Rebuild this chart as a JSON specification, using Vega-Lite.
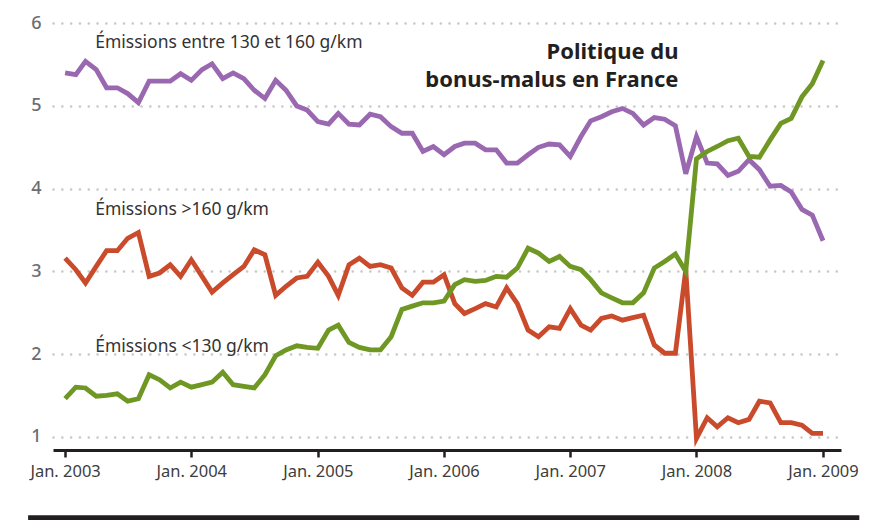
{
  "$schema": "https://vega.github.io/schema/vega-lite/v6.json",
  "width": 788,
  "height": 435,
  "autosize": {"type": "none"},
  "padding": {"left": 53, "top": 15, "right": 52, "bottom": 70},
  "background": "white",
  "config": {
    "view": {"stroke": null},
    "font": "Noto Sans"
  },
  "datasets": {
    "series": [
      {"date": "2003-01-01", "entre": 5.40, "sup": 3.16, "inf": 1.46},
      {"date": "2003-02-01", "entre": 5.38, "sup": 3.02, "inf": 1.60},
      {"date": "2003-03-01", "entre": 5.54, "sup": 2.86, "inf": 1.59},
      {"date": "2003-04-01", "entre": 5.44, "sup": 3.06, "inf": 1.49},
      {"date": "2003-05-01", "entre": 5.22, "sup": 3.25, "inf": 1.50},
      {"date": "2003-06-01", "entre": 5.22, "sup": 3.25, "inf": 1.52},
      {"date": "2003-07-01", "entre": 5.15, "sup": 3.40, "inf": 1.43},
      {"date": "2003-08-01", "entre": 5.04, "sup": 3.47, "inf": 1.46},
      {"date": "2003-09-01", "entre": 5.30, "sup": 2.94, "inf": 1.75},
      {"date": "2003-10-01", "entre": 5.30, "sup": 2.98, "inf": 1.69},
      {"date": "2003-11-01", "entre": 5.30, "sup": 3.08, "inf": 1.59},
      {"date": "2003-12-01", "entre": 5.39, "sup": 2.94, "inf": 1.66},
      {"date": "2004-01-01", "entre": 5.31, "sup": 3.14, "inf": 1.60},
      {"date": "2004-02-01", "entre": 5.44, "sup": 2.94, "inf": 1.63},
      {"date": "2004-03-01", "entre": 5.51, "sup": 2.75, "inf": 1.66},
      {"date": "2004-04-01", "entre": 5.33, "sup": 2.86, "inf": 1.78},
      {"date": "2004-05-01", "entre": 5.40, "sup": 2.96, "inf": 1.63},
      {"date": "2004-06-01", "entre": 5.33, "sup": 3.06, "inf": 1.61},
      {"date": "2004-07-01", "entre": 5.19, "sup": 3.26, "inf": 1.59},
      {"date": "2004-08-01", "entre": 5.09, "sup": 3.20, "inf": 1.75},
      {"date": "2004-09-01", "entre": 5.31, "sup": 2.71, "inf": 1.98},
      {"date": "2004-10-01", "entre": 5.19, "sup": 2.82, "inf": 2.05},
      {"date": "2004-11-01", "entre": 5.00, "sup": 2.92, "inf": 2.10},
      {"date": "2004-12-01", "entre": 4.95, "sup": 2.94, "inf": 2.08},
      {"date": "2005-01-01", "entre": 4.81, "sup": 3.11, "inf": 2.07},
      {"date": "2005-02-01", "entre": 4.78, "sup": 2.94, "inf": 2.29},
      {"date": "2005-03-01", "entre": 4.91, "sup": 2.71, "inf": 2.35},
      {"date": "2005-04-01", "entre": 4.78, "sup": 3.08, "inf": 2.14},
      {"date": "2005-05-01", "entre": 4.77, "sup": 3.16, "inf": 2.08},
      {"date": "2005-06-01", "entre": 4.90, "sup": 3.06, "inf": 2.05},
      {"date": "2005-07-01", "entre": 4.87, "sup": 3.08, "inf": 2.05},
      {"date": "2005-08-01", "entre": 4.75, "sup": 3.04, "inf": 2.21},
      {"date": "2005-09-01", "entre": 4.67, "sup": 2.80, "inf": 2.54},
      {"date": "2005-10-01", "entre": 4.67, "sup": 2.71, "inf": 2.58},
      {"date": "2005-11-01", "entre": 4.45, "sup": 2.87, "inf": 2.62},
      {"date": "2005-12-01", "entre": 4.51, "sup": 2.87, "inf": 2.62},
      {"date": "2006-01-01", "entre": 4.41, "sup": 2.96, "inf": 2.64},
      {"date": "2006-02-01", "entre": 4.51, "sup": 2.61, "inf": 2.84},
      {"date": "2006-03-01", "entre": 4.55, "sup": 2.49, "inf": 2.90},
      {"date": "2006-04-01", "entre": 4.55, "sup": 2.55, "inf": 2.88},
      {"date": "2006-05-01", "entre": 4.47, "sup": 2.61, "inf": 2.89},
      {"date": "2006-06-01", "entre": 4.47, "sup": 2.57, "inf": 2.94},
      {"date": "2006-07-01", "entre": 4.31, "sup": 2.80, "inf": 2.93},
      {"date": "2006-08-01", "entre": 4.31, "sup": 2.61, "inf": 3.04},
      {"date": "2006-09-01", "entre": 4.41, "sup": 2.29, "inf": 3.28},
      {"date": "2006-10-01", "entre": 4.50, "sup": 2.21, "inf": 3.22},
      {"date": "2006-11-01", "entre": 4.54, "sup": 2.33, "inf": 3.12},
      {"date": "2006-12-01", "entre": 4.53, "sup": 2.31, "inf": 3.18},
      {"date": "2007-01-01", "entre": 4.39, "sup": 2.55, "inf": 3.06},
      {"date": "2007-02-01", "entre": 4.63, "sup": 2.35, "inf": 3.02},
      {"date": "2007-03-01", "entre": 4.82, "sup": 2.29, "inf": 2.90},
      {"date": "2007-04-01", "entre": 4.87, "sup": 2.43, "inf": 2.74},
      {"date": "2007-05-01", "entre": 4.93, "sup": 2.46, "inf": 2.68},
      {"date": "2007-06-01", "entre": 4.97, "sup": 2.41, "inf": 2.62},
      {"date": "2007-07-01", "entre": 4.91, "sup": 2.44, "inf": 2.62},
      {"date": "2007-08-01", "entre": 4.77, "sup": 2.47, "inf": 2.74},
      {"date": "2007-09-01", "entre": 4.86, "sup": 2.11, "inf": 3.04},
      {"date": "2007-10-01", "entre": 4.84, "sup": 2.01, "inf": 3.12},
      {"date": "2007-11-01", "entre": 4.76, "sup": 2.01, "inf": 3.21},
      {"date": "2007-12-01", "entre": 4.18, "sup": 3.02, "inf": 3.00},
      {"date": "2008-01-01", "entre": 4.63, "sup": 0.98, "inf": 4.36},
      {"date": "2008-02-01", "entre": 4.31, "sup": 1.23, "inf": 4.45},
      {"date": "2008-03-01", "entre": 4.30, "sup": 1.12, "inf": 4.51},
      {"date": "2008-04-01", "entre": 4.16, "sup": 1.23, "inf": 4.58},
      {"date": "2008-05-01", "entre": 4.21, "sup": 1.17, "inf": 4.61},
      {"date": "2008-06-01", "entre": 4.35, "sup": 1.21, "inf": 4.39},
      {"date": "2008-07-01", "entre": 4.23, "sup": 1.43, "inf": 4.38},
      {"date": "2008-08-01", "entre": 4.03, "sup": 1.41, "inf": 4.59},
      {"date": "2008-09-01", "entre": 4.04, "sup": 1.17, "inf": 4.79},
      {"date": "2008-10-01", "entre": 3.96, "sup": 1.17, "inf": 4.85},
      {"date": "2008-11-01", "entre": 3.75, "sup": 1.14, "inf": 5.11},
      {"date": "2008-12-01", "entre": 3.68, "sup": 1.04, "inf": 5.27},
      {"date": "2009-01-01", "entre": 3.37, "sup": 1.04, "inf": 5.55}
    ],
    "labels": [
      {"date": "2003-03-29", "value": 5.76, "text": "Émissions entre 130 et 160 g/km"},
      {"date": "2003-03-29", "value": 3.74, "text": "Émissions >160 g/km"},
      {"date": "2003-03-29", "value": 2.09, "text": "Émissions <130 g/km"}
    ],
    "annot": [
      {"date": "2007-11-10", "value": 5.65, "text": "Politique du"},
      {"date": "2007-11-10", "value": 5.31, "text": "bonus-malus en France"}
    ],
    "bar": [
      {"start": "2002-09-16", "end": "2009-04-16", "value": 0.02}
    ]
  },
  "layer": [
    {
      "data": {"name": "series"},
      "transform": [{"fold": ["entre", "sup", "inf"], "as": ["serie", "val"]}],
      "mark": {"type": "line", "strokeWidth": 4.8, "strokeJoin": "miter"},
      "encoding": {
        "x": {
          "field": "date", "type": "temporal",
          "scale": {"type": "utc", "domain": [{"year": 2002, "month": 11, "date": 27, "utc": true}, {"year": 2009, "month": 2, "date": 22, "utc": true}]},
          "axis": {
            "title": null,
            "values": [
              {"year": 2003, "month": 1, "date": 1, "utc": true},
              {"year": 2004, "month": 1, "date": 1, "utc": true},
              {"year": 2005, "month": 1, "date": 1, "utc": true},
              {"year": 2006, "month": 1, "date": 1, "utc": true},
              {"year": 2007, "month": 1, "date": 1, "utc": true},
              {"year": 2008, "month": 1, "date": 1, "utc": true},
              {"year": 2009, "month": 1, "date": 1, "utc": true}
            ],
            "labelExpr": "'Jan. ' + utcFormat(datum.value, '%Y')",
            "grid": false,
            "domainColor": "#231f20", "domainWidth": 2.8,
            "tickColor": "#231f20", "tickWidth": 2.5, "tickSize": 7,
            "labelFontSize": 16.5, "labelColor": "#3d3d3d", "labelPadding": 6,
            "labelFont": "Noto Sans"
          }
        },
        "y": {
          "field": "val", "type": "quantitative",
          "scale": {"domain": [0.84, 6.1], "nice": false, "zero": false},
          "axis": {
            "title": null,
            "values": [1, 2, 3, 4, 5, 6],
            "format": "d",
            "domain": false, "ticks": false,
            "grid": true, "gridColor": "#c8c8c8", "gridWidth": 2.5,
            "gridDash": [0.1, 8.7], "gridCap": "round",
            "labelFontSize": 18, "labelColor": "#6d6e71", "labelFontWeight": 500,
            "labelPadding": 12, "labelFont": "Noto Sans"
          }
        },
        "color": {
          "field": "serie", "type": "nominal", "legend": null,
          "scale": {"domain": ["entre", "sup", "inf"], "range": ["#9a68b0", "#c94b2b", "#6f9724"]}
        }
      }
    },
    {
      "mark": {"type": "rule", "color": "#231f20", "strokeWidth": 2.5},
      "encoding": {"x": {"datum": {"year": 2008, "month": 1, "date": 1, "utc": true}, "type": "temporal"}}
    },
    {
      "data": {"name": "labels"},
      "mark": {"type": "text", "align": "left", "baseline": "middle", "fontSize": 17.5, "color": "#333333", "font": "Noto Sans"},
      "encoding": {
        "x": {"field": "date", "type": "temporal"},
        "y": {"field": "value", "type": "quantitative"},
        "text": {"field": "text"}
      }
    },
    {
      "data": {"name": "annot"},
      "mark": {"type": "text", "align": "right", "baseline": "middle", "fontSize": 22, "fontWeight": "bold", "color": "#231f20", "font": "Noto Sans"},
      "encoding": {
        "x": {"field": "date", "type": "temporal"},
        "y": {"field": "value", "type": "quantitative"},
        "text": {"field": "text"}
      }
    },
    {
      "data": {"name": "bar"},
      "mark": {"type": "rule", "color": "#231f20", "strokeWidth": 5, "clip": false},
      "encoding": {
        "x": {"field": "start", "type": "temporal"},
        "x2": {"field": "end"},
        "y": {"field": "value", "type": "quantitative"}
      }
    }
  ]
}
